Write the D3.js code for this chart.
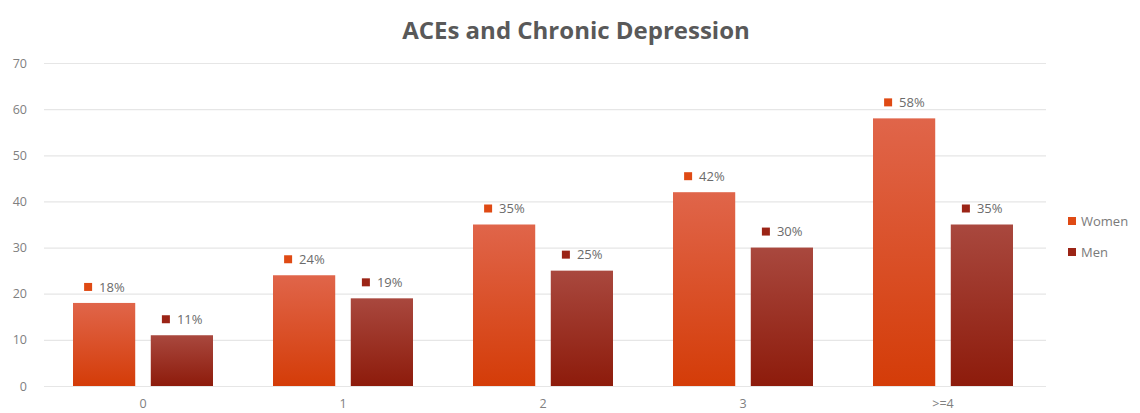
<!DOCTYPE html>
<html><head><meta charset="utf-8">
<script src="https://cdn.jsdelivr.net/npm/d3@7"></script>
<style>body{margin:0;background:#fff}svg{display:block}</style>
</head><body><svg id="c" width="1140" height="413"></svg>
<script>
const categories = ["0","1","2","3",">=4"];
const seriesNames = ["Women","Men"];
const women = [18,24,35,42,58];
const men = [11,19,25,30,35];
const yTicks = [0,10,20,30,40,50,60,70];

const svg = d3.select("#c");
const x = d3.scaleBand().domain(categories).range([43,1043]).paddingInner(0).paddingOuter(0);
const y = d3.scaleLinear().domain([0,70]).range([386,63]);
const xs = d3.scaleBand().domain(seriesNames).range([30,170]).paddingInner(0.2);

const defs = svg.append("defs");
function grad(id, c1, c2){
  const g = defs.append("linearGradient").attr("id",id).attr("x1",0).attr("y1",0).attr("x2",0).attr("y2",1);
  g.append("stop").attr("offset","0%").attr("stop-color",c1);
  g.append("stop").attr("offset","100%").attr("stop-color",c2);
}
grad("gW","#e0654a","#d43c08");
grad("gM","#a9483e","#8d1b0b");
const fills = {Women:"url(#gW)",Men:"url(#gM)"};
const solid = {Women:"#df4a14",Men:"#9b2416"};

svg.append("text").attr("x",576).attr("y",39).attr("text-anchor","middle")
  .attr("font-family","Open Sans").attr("font-weight","bold").attr("font-size",24)
  .attr("fill","#595959").text("ACEs and Chronic Depression");

// grid
const yAxis = d3.axisLeft(y).tickValues(yTicks).tickSize(-1002).tickPadding(17);
const ga = svg.append("g").attr("transform","translate(44,0)").call(yAxis);
ga.select(".domain").remove();
ga.selectAll(".tick line").attr("stroke","#e6e6e6").attr("stroke-width",1.2);
ga.selectAll(".tick text").attr("font-family","Open Sans").attr("font-size",12.5).attr("fill","#808080");

const xAxis = d3.axisBottom(x).tickSize(0).tickPadding(13);
const gx = svg.append("g").attr("transform","translate(0,386)").call(xAxis);
gx.select(".domain").remove();
gx.selectAll(".tick text").attr("font-family","Open Sans").attr("font-size",12.5).attr("fill","#808080");

const data = categories.map((c,i)=>({c, vals:[{s:"Women",v:women[i]},{s:"Men",v:men[i]}]}));
const grp = svg.append("g").selectAll("g").data(data).join("g").attr("transform",d=>`translate(${x(d.c)},0)`);
grp.selectAll("rect").data(d=>d.vals).join("rect")
  .attr("x",d=>xs(d.s)).attr("width",xs.bandwidth())
  .attr("y",d=>y(d.v)).attr("height",d=>y(0)-y(d.v))
  .attr("fill",d=>fills[d.s]);
const lab = grp.selectAll("g.lab").data(d=>d.vals).join("g").attr("class","lab")
  .attr("transform",d=>`translate(${xs(d.s)+xs.bandwidth()/2},${y(d.v)-16})`);
lab.append("rect").attr("x",-20).attr("y",-4).attr("width",8).attr("height",8).attr("fill",d=>solid[d.s]);
lab.append("text").attr("x",-5).attr("dy","0.35em").attr("font-family","Open Sans").attr("font-size",13)
  .attr("fill","#6b6b6b").text(d=>d.v+"%");

const leg = svg.append("g").selectAll("g").data(seriesNames).join("g")
  .attr("transform",(d,i)=>`translate(1068,${221+i*31})`);
leg.append("rect").attr("x",0).attr("y",-4).attr("width",8).attr("height",8).attr("fill",d=>solid[d]);
leg.append("text").attr("x",13).attr("dy","0.35em").attr("font-family","Open Sans").attr("font-size",13)
  .attr("fill","#7a7a7a").text(d=>d);
</script></body></html>
